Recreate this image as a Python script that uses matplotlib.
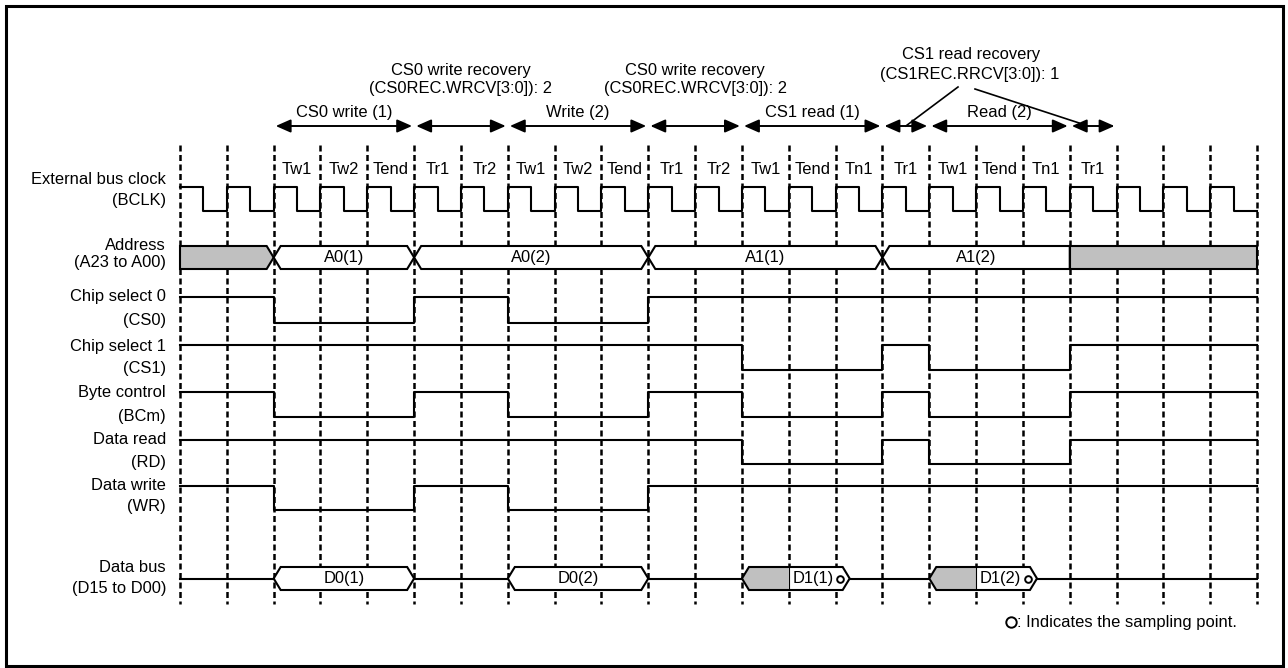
import numpy as np
import matplotlib
matplotlib.use("Agg")
import matplotlib.pyplot as plt
from matplotlib.patches import Polygon, Rectangle

plt.rcParams['font.family'] = ['Liberation Sans', 'DejaVu Sans']
FS = 11.9

# ---- data -------------------------------------------------------------
n_cycles = 23
states = ["", "", "Tw1", "Tw2", "Tend", "Tr1", "Tr2", "Tw1", "Tw2", "Tend",
          "Tr1", "Tr2", "Tw1", "Tend", "Tn1", "Tr1", "Tw1", "Tend", "Tn1", "Tr1"]

# (cycle where level starts, level)
cs0 = [(0, 1), (2, 0), (5, 1), (7, 0), (10, 1)]
cs1 = [(0, 1), (12, 0), (15, 1), (16, 0), (19, 1)]
bcm = [(0, 1), (2, 0), (5, 1), (7, 0), (10, 1), (12, 0), (15, 1), (16, 0), (19, 1)]
rd = [(0, 1), (12, 0), (15, 1), (16, 0), (19, 1)]
wr = [(0, 1), (2, 0), (5, 1), (7, 0), (10, 1)]

# address bus: start, end, label, slant left, slant right, gray
addr_segs = [(0, 2, "", False, True, True),
             (2, 5, "A0(1)", True, True, False),
             (5, 10, "A0(2)", True, True, False),
             (10, 15, "A1(1)", True, True, False),
             (15, 19, "A1(2)", True, False, False),
             (19, 23, "", False, False, True)]

# data bus: start, end, label, gray until
data_segs = [(2, 5, "D0(1)", None),
             (7, 10, "D0(2)", None),
             (12, 14.3, "D1(1)", 13),
             (16, 18.3, "D1(2)", 17)]
sample_pts = [14.1, 18.1]

phases = [(2, 5, "CS0 write (1)"), (5, 7, ""), (7, 10, "Write (2)"), (10, 12, ""),
          (12, 15, "CS1 read (1)"), (15, 16, ""), (16, 19, "Read (2)"), (19, 20, "")]

row_labels = [("External bus clock", "(BCLK)"), ("Address", "(A23 to A00)"),
              ("Chip select 0", "(CS0)"), ("Chip select 1", "(CS1)"),
              ("Byte control", "(BCm)"), ("Data read", "(RD)"),
              ("Data write", "(WR)"), ("Data bus", "(D15 to D00)")]

# ---- layout -----------------------------------------------------------
W, H = 1288, 668
X0, P = 180.0, 46.83          # first clock line (px), clock period (px)
def cx(px):
    return (px - X0) / P

fig = plt.figure(figsize=(W / 100, H / 100), dpi=100)
ax = fig.add_axes([0, 0, 1, 1])
ax.set_xlim(cx(0), cx(W))
ax.set_ylim(H, 0)
ax.axis('off')

fig.patches.append(Rectangle((5.5 / W, 2.5 / H), (W - 11) / W, (H - 8.5) / H,
                             transform=fig.transFigure, fill=False,
                             ec='black', lw=2.2))

LW = 1.5
GRAY = '#c0c0c0'
sl = 7 / P

# dashed clock lines
for i in range(n_cycles + 1):
    ax.plot([i, i], [145, 604], color='black', lw=1.8,
            linestyle=(0, (2.4, 1.4)), zorder=1)

# clock
xs, ys = [], []
for i in range(n_cycles):
    xs += [i, i + 0.5, i + 0.5, i + 1]
    ys += [187, 187, 211, 211]
ax.plot(xs, ys, color='black', lw=LW, zorder=3)

# state labels
for i, s in enumerate(states):
    if s:
        ax.text(i + 0.5, 170, s, ha='center', va='center', fontsize=FS, zorder=4)

# level signals
def draw_level(edges, yhi, ylo):
    xs, ys = [], []
    for k, (t, lv) in enumerate(edges):
        t_end = edges[k + 1][0] if k + 1 < len(edges) else n_cycles
        y = yhi if lv else ylo
        xs += [t, t_end]
        ys += [y, y]
    ax.plot(xs, ys, color='black', lw=LW, zorder=3)

draw_level(cs0, 297, 323)
draw_level(cs1, 345, 370)
draw_level(bcm, 392, 417)
draw_level(rd, 440, 464)
draw_level(wr, 486, 510)

def hexagon(a, b, top, bot, left_sl=True, right_sl=True):
    c = (top + bot) / 2
    pts = []
    if left_sl:
        pts += [(a, c), (a + sl, top)]
    else:
        pts += [(a, bot), (a, top)]
    if right_sl:
        pts += [(b - sl, top), (b, c), (b - sl, bot)]
    else:
        pts += [(b, top), (b, bot)]
    if left_sl:
        pts += [(a + sl, bot)]
    return pts

# address bus
at, ab = 246, 269
for a, b, lab, ls, rs, gray in addr_segs:
    pts = hexagon(a, b, at, ab, ls, rs)
    ax.add_patch(Polygon(pts, closed=True, fc=GRAY if gray else 'white',
                         ec='black', lw=LW, zorder=2))
    if lab:
        ax.text((a + b) / 2, (at + ab) / 2, lab, ha='center', va='center',
                fontsize=FS, zorder=4)

# data bus
dt, db = 567, 590
dc = (dt + db) / 2
prev = 0
for a, b, lab, g in data_segs:
    ax.plot([prev, a], [dc, dc], color='black', lw=LW, zorder=3)
    prev = b
    ax.add_patch(Polygon(hexagon(a, b, dt, db), closed=True, fc='white',
                         ec='none', zorder=2))
    if g is not None:
        ax.add_patch(Polygon([(a, dc), (a + sl, dt), (g, dt), (g, db), (a + sl, db)],
                             closed=True, fc=GRAY, ec='none', zorder=2))
        ax.plot([g, g], [dt, db], color='black', lw=0.8, zorder=2)
    ax.add_patch(Polygon(hexagon(a, b, dt, db), closed=True, fill=False,
                         ec='black', lw=LW, zorder=3))
    xt = (a + b) / 2 if g is None else (g + b - 0.2) / 2 - 0.03
    ax.text(xt, dc, lab, ha='center', va='center', fontsize=FS, zorder=4)
ax.plot([prev, n_cycles], [dc, dc], color='black', lw=LW, zorder=3)
ax.plot(sample_pts, [dc] * len(sample_pts), 'o', ms=4.8, mfc='white',
        mec='black', mew=1.4, zorder=5)

# phase arrows
ay = 126
for a, b, lab in phases:
    ax.annotate('', xy=(b, ay), xytext=(a, ay),
                arrowprops=dict(arrowstyle='<|-|>,head_length=0.5,head_width=0.22',
                                mutation_scale=18, color='black', lw=1.4,
                                shrinkA=1.5, shrinkB=1.5))
    if lab:
        ax.text((a + b) / 2, 112, lab, ha='center', va='center', fontsize=FS)

# recovery notes
for c in (6, 11):
    ax.text(c, 70, "CS0 write recovery", ha='center', va='center', fontsize=FS)
    ax.text(c, 89, "(CS0REC.WRCV[3:0]): 2", ha='center', va='center', fontsize=FS)
ax.text(cx(971), 54, "CS1 read recovery", ha='center', va='center', fontsize=FS)
ax.text(cx(970), 74, "(CS1REC.RRCV[3:0]): 1", ha='center', va='center', fontsize=FS)
ax.plot([cx(958), 15.5], [87, ay], color='black', lw=1.2)
ax.plot([cx(975), 19.2], [89, 123], color='black', lw=1.2)

# row labels
label_y = [(179, 200), (246, 262), (297, 321), (346, 369),
           (393, 416), (440, 462), (485, 507), (567, 589)]
for (l1, l2), (y1, y2) in zip(row_labels, label_y):
    ax.text(cx(166), y1, l1, ha='right', va='center', fontsize=FS)
    ax.text(cx(166), y2, l2, ha='right', va='center', fontsize=FS)

# note
ax.plot([cx(1011)], [622], 'o', ms=7.5, mfc='white', mec='black', mew=1.4)
ax.text(cx(1017), 622, ": Indicates the sampling point.", ha='left',
        va='center', fontsize=FS)

fig.savefig("out.png", dpi=100)
